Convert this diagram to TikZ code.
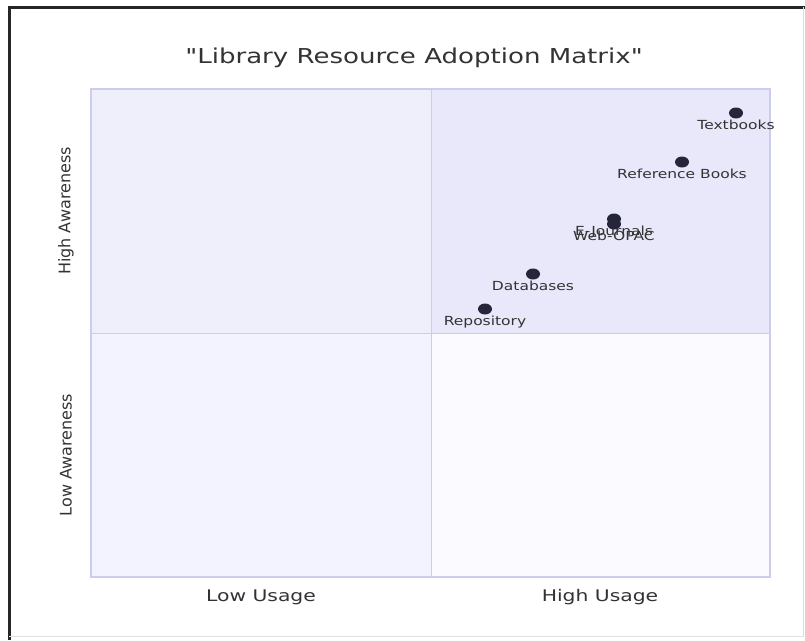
\documentclass[tikz,border=0pt]{standalone}
\usepackage{fontspec}
\setmainfont{DejaVu Sans}[Ligatures=TeXOff]
\usetikzlibrary{positioning,shapes.geometric}
\definecolor{qborder}{HTML}{CCCCEF}
\definecolor{qtl}{HTML}{EFEFFC}
\definecolor{qtr}{HTML}{E8E8FA}
\definecolor{qbl}{HTML}{F2F3FE}
\definecolor{qbr}{HTML}{FBFBFF}
\definecolor{dotc}{HTML}{26263A}
\definecolor{txt}{HTML}{333333}
\tikzset{
  pt/.style={ellipse,fill=dotc,inner sep=0pt,minimum width=14pt,minimum height=11pt},
  ptlabel/.style={below=0pt,font=\fontsize{12.5}{14}\selectfont,xscale=1.24,text=txt,inner sep=1pt},
  axlabel/.style={font=\fontsize{16}{18}\selectfont,text=txt}
}
\begin{document}
\begin{tikzpicture}[x=1pt,y=-1pt]
    \useasboundingbox[fill=white] (0,0) rectangle (805,640);
    \draw[line width=3pt,black!85] (9,640) -- (9,7) -- (805,7);
    \draw[gray!25] (803,7) -- (803,636) -- (9,636);
    % quadrants
    \fill[qtl] (91,89) rectangle (431,333);
    \fill[qtr] (431,89) rectangle (770,333);
    \fill[qbl] (91,333) rectangle (431,577);
    \fill[qbr] (431,333) rectangle (770,577);
    \draw[qborder] (431,89) -- (431,577) (91,333) -- (770,333);
    \draw[qborder,line width=1.5pt] (91,89) rectangle (770,577);
    \node[font=\fontsize{20.5}{24}\selectfont,xscale=1.27,text=txt] (title) at (414,58) {"Library Resource Adoption Matrix"};
    \node[axlabel,xscale=1.27] (lowx) at (261,597) {Low Usage};
    \node[axlabel,xscale=1.27] (highx) at (600,597) {High Usage};
    \node[axlabel,rotate=90] (highy) at (66,211) {High Awareness};
    \node[axlabel,rotate=90] (lowy) at (66,455) {Low Awareness};
    % points
    \node[pt] (text) at (736,113) {};
    \node[ptlabel] at (text.south) {Textbooks};
    \node[pt] (ref) at (682,162) {};
    \node[ptlabel] at (ref.south) {Reference Books};
    \node[pt] (ejour) at (614,219) {};
    \node[ptlabel] at (ejour.south) {E-Journals};
    \node[pt] (opac) at (614,224) {};
    \node[ptlabel] at (opac.south) {Web-OPAC};
    \node[pt] (data) at (533,274) {};
    \node[ptlabel] at (data.south) {Databases};
    \node[pt] (repo) at (485,309) {};
    \node[ptlabel] at (repo.south) {Repository};
\end{tikzpicture}
\end{document}
